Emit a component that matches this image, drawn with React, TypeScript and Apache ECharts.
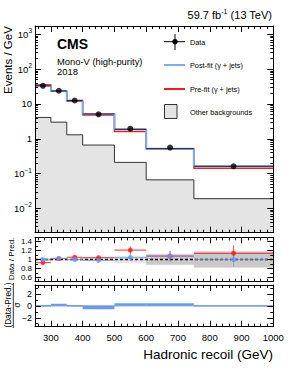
import React, { useEffect, useRef } from "react";
import * as echarts from "echarts";

// ---- data ----
const X_EDGES = [250, 300, 350, 400, 500, 600, 750, 1000];
const BIN_CENTERS = [275, 325, 375, 450, 550, 675, 875];
const DATA_MAIN = [33.3, 24.0, 12.6, 5.05, 1.95, 0.56, 0.162];
const POST_FIT = [33.3, 23.6, 12.5, 5.15, 1.87, 0.52, 0.162];
const PRE_FIT = [35.8, 23.5, 12.0, 4.86, 1.61, 0.52, 0.142];
const OTHER_BKG = [4.1, 3.0, 1.3, 0.66, 0.21, 0.066, 0.019];

const RATIO_PRE = [0.93, 1.02, 1.05, 1.04, 1.21, 1.075, 1.14];
const RATIO_PRE_ERR = [0.03, 0.03, 0.03, 0.03, 0.09, 0.12, 0.18];
const RATIO_POST = [1.0, 1.025, 1.0, 0.98, 1.045, 1.075, 1.0];
const RATIO_POST_ERR = [0.02, 0.02, 0.03, 0.03, 0.08, 0.12, 0.16];
const BAND_LIGHT = [0.025, 0.025, 0.025, 0.03, 0.085, 0.13, 0.19];
const BAND_DARK = [0, 0, 0, 0, 0, 0.115, 0.175];

const RESIDUALS = [-0.05, 0.35, -0.1, -0.55, 0.45, 0.45, 0.0];

const X_TICKS = [300, 400, 500, 600, 700, 800, 900, 1000];
const Y_MAIN_TICKS = [0.01, 0.1, 1, 10, 100, 1000];
const Y_RATIO_TICKS = [0.6, 0.8, 1, 1.2, 1.4];
const Y_RES_TICKS = [-2, 0, 2];

const FONT = "Liberation Sans, Arial, Helvetica, sans-serif";
const RED = "#ff1a1a";
const BLUE = "#6a98ee";

const GRIDS = [
  { left: 35, top: 26, width: 238.3, height: 206.7 },
  { left: 35, top: 237.3, width: 238.3, height: 44.4 },
  { left: 35, top: 285, width: 238.3, height: 41.7 },
];

function xMinorTicks() {
  const out: number[] = [];
  for (let v = 260; v < 1000; v += 20) if (v % 100 !== 0) out.push(v);
  return out;
}
function logMinorTicks() {
  const out: number[] = [];
  for (let k = -3; k <= 3; k++)
    for (let m = 2; m <= 9; m++) {
      const v = m * Math.pow(10, k);
      if (v > 0.002 && v < 1740) out.push(Number(v.toPrecision(3)));
    }
  return out;
}

function stepData(vals: number[]) {
  const d = vals.map((v, i) => [X_EDGES[i], v]);
  d.push([X_EDGES[X_EDGES.length - 1], vals[vals.length - 1]]);
  return d;
}

export default function App() {
  const ref = useRef<HTMLDivElement>(null);

  useEffect(() => {
    if (!ref.current) return;
    const chart = echarts.init(ref.current, undefined, { renderer: "svg" });

    const xAxis: any[] = [];
    const yAxis: any[] = [];
    const xMinor = xMinorTicks();
    const yLogMinor = logMinorTicks();

    GRIDS.forEach((_, g) => {
      const mk = (pos: string, vals: number[], len: number, labels: boolean, line: boolean) => ({
        type: "value",
        gridIndex: g,
        position: pos,
        min: 250,
        max: 1000,
        z: 10,
        splitLine: { show: false },
        axisLine: { show: line, onZero: false, lineStyle: { color: "#000", width: 1 } },
        axisTick: { show: true, inside: true, length: len, customValues: vals, lineStyle: { color: "#000", width: 1 } },
        axisLabel: {
          show: labels,
          customValues: vals,
          fontSize: 9.5,
          fontFamily: FONT,
          color: "#000",
          margin: 6,
          formatter: (v: number) => String(v),
        },
      });
      xAxis.push(mk("bottom", X_TICKS, 6, g === 2, true));
      xAxis.push(mk("bottom", xMinor, 3, false, false));
      xAxis.push(mk("top", X_TICKS, 6, false, true));
      xAxis.push(mk("top", xMinor, 3, false, false));
    });

    // main log y axes
    const logAx = (pos: string, vals: number[], len: number, labels: boolean, line: boolean) => ({
      type: "log",
      logBase: 10,
      gridIndex: 0,
      position: pos,
      min: 0.002,
      max: 1740,
      z: 10,
      splitLine: { show: false },
      axisLine: { show: line, onZero: false, lineStyle: { color: "#000", width: 1 } },
      axisTick: { show: true, inside: true, length: len, customValues: vals, lineStyle: { color: "#000", width: 1 } },
      axisLabel: {
        show: labels,
        customValues: vals,
        margin: 3,
        color: "#000",
        fontFamily: FONT,
        formatter: (v: number) => {
          const e = Math.round(Math.log10(v));
          if (e === 0) return "{b|1}";
          if (e === 1) return "{b|10}";
          return "{b|10}{s|" + (e < 0 ? "\u2212" + -e : String(e)) + "}";
        },
        rich: {
          b: { fontSize: 9.5, fontFamily: FONT, color: "#000", lineHeight: 14 },
          s: { fontSize: 6.5, fontFamily: FONT, color: "#000", verticalAlign: "top", lineHeight: 8 },
        },
      },
    });
    yAxis.push(logAx("left", Y_MAIN_TICKS, 6, true, true));
    yAxis.push(logAx("left", yLogMinor, 3, false, false));
    yAxis.push(logAx("right", Y_MAIN_TICKS, 6, false, true));
    yAxis.push(logAx("right", yLogMinor, 3, false, false));

    const linAx = (g: number, min: number, max: number, pos: string, vals: number[], len: number, labels: boolean, line: boolean, fs: number) => ({
      type: "value",
      gridIndex: g,
      position: pos,
      min,
      max,
      z: 10,
      splitLine: { show: false },
      axisLine: { show: line, onZero: false, lineStyle: { color: "#000", width: 1 } },
      axisTick: { show: true, inside: true, length: len, customValues: vals, lineStyle: { color: "#000", width: 1 } },
      axisLabel: {
        show: labels,
        customValues: vals,
        margin: 3,
        color: "#000",
        fontSize: fs,
        fontFamily: FONT,
        formatter: (v: number) => (v < 0 ? "\u2212" + -v : String(v)),
      },
    });
    const ratioMinor = [0.5, 0.7, 0.9, 1.1, 1.3, 1.5];
    yAxis.push(linAx(1, 0.5, 1.5, "left", Y_RATIO_TICKS, 6, true, true, 8));
    yAxis.push(linAx(1, 0.5, 1.5, "left", ratioMinor, 3, false, false, 8));
    yAxis.push(linAx(1, 0.5, 1.5, "right", Y_RATIO_TICKS, 6, false, true, 8));
    yAxis.push(linAx(1, 0.5, 1.5, "right", ratioMinor, 3, false, false, 8));
    const resMinor = [-3, -1, 1, 3];
    yAxis.push(linAx(2, -3.5, 3.5, "left", Y_RES_TICKS, 6, true, true, 9));
    yAxis.push(linAx(2, -3.5, 3.5, "left", resMinor, 3, false, false, 9));
    yAxis.push(linAx(2, -3.5, 3.5, "right", Y_RES_TICKS, 6, false, true, 9));
    yAxis.push(linAx(2, -3.5, 3.5, "right", resMinor, 3, false, false, 9));

    const series: any[] = [];

    // ---- main panel ----
    series.push({
      type: "line",
      xAxisIndex: 0,
      yAxisIndex: 0,
      step: "end",
      symbol: "none",
      data: stepData(OTHER_BKG),
      lineStyle: { color: "#333", width: 1 },
      areaStyle: { color: "#e4e4e4", opacity: 1, origin: "start" },
      z: 1,
    });
    series.push({
      type: "line",
      xAxisIndex: 0,
      yAxisIndex: 0,
      step: "end",
      symbol: "none",
      data: stepData(PRE_FIT),
      lineStyle: { color: RED, width: 1.5 },
      z: 2,
    });
    series.push({
      type: "line",
      xAxisIndex: 0,
      yAxisIndex: 0,
      step: "end",
      symbol: "none",
      data: stepData(POST_FIT),
      lineStyle: { color: "#7fa8f5", width: 2 },
      z: 3,
    });
    series.push({
      type: "custom",
      xAxisIndex: 0,
      yAxisIndex: 0,
      coordinateSystem: "cartesian2d",
      data: POST_FIT.map((v, i) => [X_EDGES[i], X_EDGES[i + 1], v]),
      encode: { x: [0, 1], y: 2 },
      renderItem: (params: any, api: any) => {
        const a = api.coord([api.value(0), api.value(2)]);
        const b = api.coord([api.value(1), api.value(2)]);
        return {
          type: "line",
          shape: { x1: a[0], y1: a[1], x2: b[0], y2: b[1] },
          style: { stroke: "#1c1c30", lineWidth: 1 },
        };
      },
      z: 4,
    });
    series.push({
      type: "scatter",
      xAxisIndex: 0,
      yAxisIndex: 0,
      data: DATA_MAIN.map((v, i) => [BIN_CENTERS[i], v]),
      symbol: "circle",
      symbolSize: 6,
      itemStyle: { color: "#000" },
      z: 5,
    });

    // ---- ratio panel ----
    const bandSeries = (vals: number[], color: string, z: number) => ({
      type: "custom",
      xAxisIndex: 4,
      yAxisIndex: 4,
      coordinateSystem: "cartesian2d",
      data: vals.map((w, i) => [X_EDGES[i], X_EDGES[i + 1], 1 - w, 1 + w]),
      encode: { x: [0, 1], y: [2, 3] },
      renderItem: (params: any, api: any) => {
        const a = api.coord([api.value(0), api.value(3)]);
        const b = api.coord([api.value(1), api.value(2)]);
        return {
          type: "rect",
          shape: { x: a[0], y: a[1], width: b[0] - a[0], height: b[1] - a[1] },
          style: { fill: color },
        };
      },
      z,
    });
    series.push(bandSeries(BAND_LIGHT, "#e6e6e6", 1));
    series.push(bandSeries(BAND_DARK, "#c9c9c9", 2));
    series.push({
      type: "line",
      xAxisIndex: 4,
      yAxisIndex: 4,
      symbol: "none",
      data: [
        [250, 1],
        [1000, 1],
      ],
      lineStyle: { color: "#000", width: 1.3, type: [3, 2] },
      z: 3,
    });
    const errSeries = (vals: number[], errs: number[], color: string, z: number) => ({
      type: "custom",
      xAxisIndex: 4,
      yAxisIndex: 4,
      coordinateSystem: "cartesian2d",
      data: vals.map((v, i) => [X_EDGES[i], X_EDGES[i + 1], v, v - errs[i], v + errs[i]]),
      encode: { x: [0, 1], y: [2, 3, 4] },
      renderItem: (params: any, api: any) => {
        const x0 = api.value(0);
        const x1 = api.value(1);
        const y = api.value(2);
        const xc = (x0 + x1) / 2;
        const a = api.coord([x0, y]);
        const b = api.coord([x1, y]);
        const t = api.coord([xc, api.value(4)]);
        const d = api.coord([xc, api.value(3)]);
        return {
          type: "group",
          children: [
            { type: "line", shape: { x1: a[0], y1: a[1], x2: b[0], y2: b[1] }, style: { stroke: color, lineWidth: 1.2, opacity: 0.75 } },
            { type: "line", shape: { x1: t[0], y1: t[1], x2: d[0], y2: d[1] }, style: { stroke: color, lineWidth: 1, opacity: 0.75 } },
          ],
        };
      },
      z,
    });
    series.push(errSeries(RATIO_PRE, RATIO_PRE_ERR, RED, 4));
    series.push(errSeries(RATIO_POST, RATIO_POST_ERR, BLUE, 5));
    series.push({
      type: "scatter",
      xAxisIndex: 4,
      yAxisIndex: 4,
      data: RATIO_PRE.map((v, i) => [BIN_CENTERS[i], v]),
      symbolSize: 5,
      itemStyle: { color: RED },
      z: 6,
    });
    series.push({
      type: "scatter",
      xAxisIndex: 4,
      yAxisIndex: 4,
      data: RATIO_POST.map((v, i) => [BIN_CENTERS[i], v]),
      symbolSize: 5,
      itemStyle: { color: BLUE },
      z: 7,
    });

    // ---- residual panel ----
    series.push({
      type: "line",
      xAxisIndex: 8,
      yAxisIndex: 8,
      symbol: "none",
      data: [
        [250, 0],
        [1000, 0],
      ],
      lineStyle: { color: "#8db2f5", width: 1.3 },
      z: 1,
    });
    series.push({
      type: "custom",
      xAxisIndex: 8,
      yAxisIndex: 8,
      coordinateSystem: "cartesian2d",
      data: RESIDUALS.map((v, i) => [X_EDGES[i], X_EDGES[i + 1], v]),
      encode: { x: [0, 1], y: 2 },
      renderItem: (params: any, api: any) => {
        const v = api.value(2);
        const a = api.coord([api.value(0), Math.max(v, 0)]);
        const b = api.coord([api.value(1), Math.min(v, 0)]);
        const thin = b[1] - a[1] < 1.4;
        return {
          type: "rect",
          shape: { x: a[0], y: thin ? a[1] - 0.7 : a[1], width: b[0] - a[0], height: thin ? 1.4 : b[1] - a[1] },
          style: { fill: "#6a98ee" },
        };
      },
      z: 2,
    });

    const txt = (text: string, x: number, y: number, fs: number, extra: any = {}) => ({
      type: "text",
      x,
      y,
      z: 100,
      style: {
        text,
        fontSize: fs,
        fontFamily: FONT,
        fill: "#000",
        align: "left",
        verticalAlign: "middle",
        ...(extra.style || {}),
      },
      ...(extra.el || {}),
    });

    const graphic: any[] = [
      {
        type: "text",
        x: 272,
        y: 15,
        style: {
          text: "{b|59.7 fb}{s|-1}{b| (13 TeV)}",
          align: "right",
          verticalAlign: "middle",
          rich: {
            b: { fontSize: 11, fontFamily: FONT, fill: "#000", lineHeight: 15 },
            s: { fontSize: 7, fontFamily: FONT, fill: "#000", verticalAlign: "top", lineHeight: 9 },
          },
        },
      },
      txt("CMS", 57, 43.5, 14, { style: { fontWeight: "bold" } }),
      txt("Mono-V (high-purity)", 57, 61, 9.4),
      txt("2018", 57, 71.5, 9.4),
      // legend
      { type: "line", shape: { x1: 164, y1: 41.7, x2: 185, y2: 41.7 }, style: { stroke: "#000", lineWidth: 1 } },
      { type: "line", shape: { x1: 175, y1: 34, x2: 175, y2: 50 }, style: { stroke: "#000", lineWidth: 1 } },
      { type: "circle", shape: { cx: 175, cy: 41.7, r: 2.7 }, style: { fill: "#000" } },
      txt("Data", 190, 42, 7.3),
      { type: "line", shape: { x1: 164, y1: 65, x2: 185, y2: 65 }, style: { stroke: "#7fa8f5", lineWidth: 2 } },
      txt("Post-fit (\u03b3 + jets)", 190, 65.5, 7.3),
      { type: "line", shape: { x1: 164, y1: 89, x2: 185, y2: 89 }, style: { stroke: RED, lineWidth: 2 } },
      txt("Pre-fit (\u03b3 + jets)", 190, 89.5, 7.3),
      { type: "rect", shape: { x: 164.5, y: 104.5, width: 12.5, height: 14 }, style: { fill: "#e4e4e4", stroke: "#333", lineWidth: 1 } },
      txt("Other backgrounds", 190, 112, 7.3),
      // axis titles
      txt("Events / GeV", 7.5, 60, 11.5, { style: { align: "center" }, el: { rotation: Math.PI / 2 } }),
      txt("Data / Pred.", 11.5, 259, 8, { style: { align: "center" }, el: { rotation: Math.PI / 2 } }),
      txt("(Data-Pred.)", 8.3, 305, 8.2, { style: { align: "center" }, el: { rotation: Math.PI / 2 } }),
      { type: "line", shape: { x1: 13.3, y1: 283, x2: 13.3, y2: 328 }, style: { stroke: "#000", lineWidth: 0.8 } },
      txt("\u03c3", 17, 305, 8.2, { style: { align: "center" }, el: { rotation: Math.PI / 2 } }),
      txt("Hadronic recoil (GeV)", 273, 354, 13.5, { style: { align: "right" } }),
    ];

    chart.setOption({
      animation: false,
      backgroundColor: "#fff",
      grid: GRIDS.map((g) => ({ ...g, show: false, containLabel: false })),
      xAxis,
      yAxis,
      series,
      graphic,
    });

    return () => chart.dispose();
  }, []);

  return (
    <div
      ref={ref}
      style={{ position: "fixed", left: 0, top: 0, width: 291, height: 376, background: "#fff" }}
    />
  );
}
